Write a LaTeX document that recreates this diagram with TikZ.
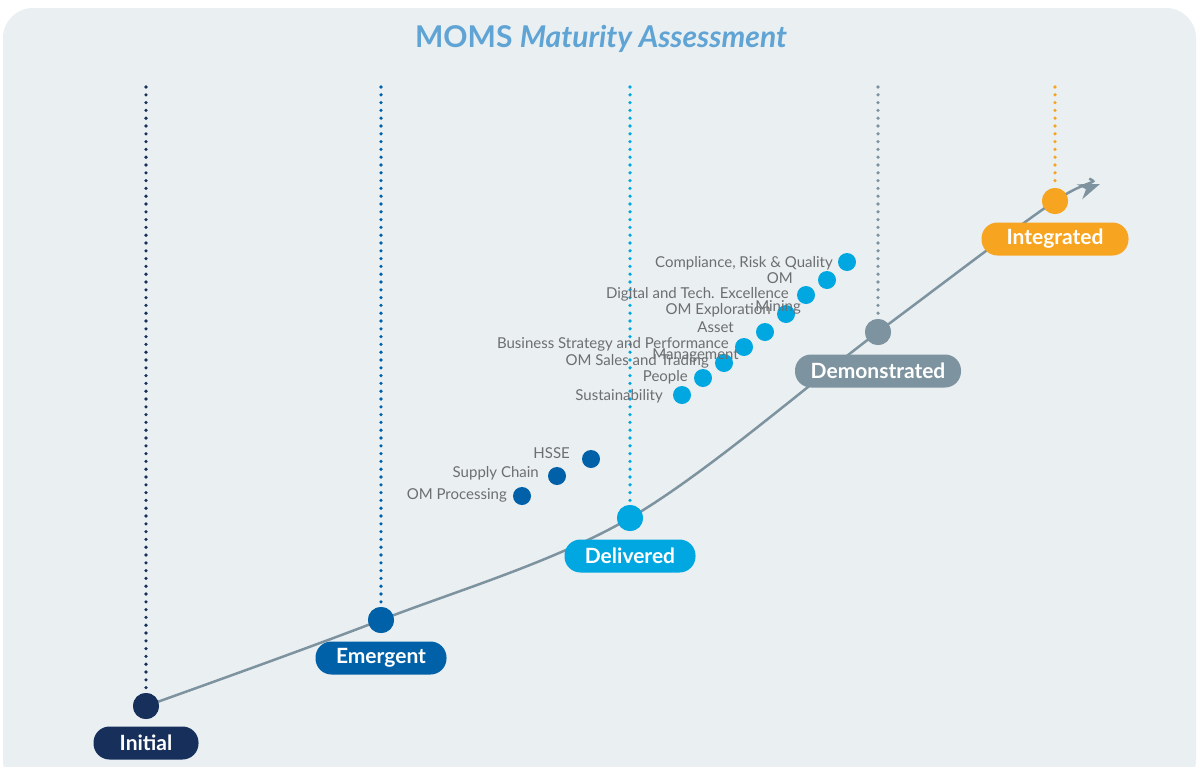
\documentclass[tikz,border=0pt]{standalone}
\usepackage{fontspec}
\setmainfont{Lato}
\usetikzlibrary{arrows.meta}
\definecolor{bgc}{HTML}{EAEFF2}
\definecolor{navy}{HTML}{16305B}
\definecolor{emblue}{HTML}{0061A8}
\definecolor{dlblue}{HTML}{00A7E1}
\definecolor{dmgray}{HTML}{7D939F}
\definecolor{igorange}{HTML}{F7A521}
\definecolor{titleblue}{HTML}{5FA4D4}
\definecolor{txtgray}{HTML}{6D6E71}
\tikzset{
  bigdot/.style={circle,fill=#1,minimum size=26pt,inner sep=0pt},
  smalldot/.style={circle,fill=#1,minimum size=18pt,inner sep=0pt},
  pill/.style={rectangle,rounded corners=16pt,fill=#1,text=white,minimum height=33pt,inner sep=0pt,font=\fontsize{21}{24}\selectfont\bfseries},
  dotline/.style={draw=#1,line width=3.6pt,line cap=round,dash pattern=on 0pt off 7.8pt,shorten >=16pt},
  lbl/.style={anchor=east,text=txtgray,font=\fontsize{15}{17}\selectfont,inner sep=0pt}
}
\begin{document}
\begin{tikzpicture}[x=1pt,y=-1pt]
\useasboundingbox (0,0) rectangle (1197,766);
\fill[white] (0,0) rectangle (1197,766);
\fill[bgc,rounded corners=30pt] (3,8) rectangle (1196,790);
\node[text=titleblue,font=\fontsize{30}{34}\selectfont\bfseries] (title) at (601,39) {MOMS \textit{Maturity Assessment}};
% top coordinates
\coordinate (ti) at (146,87);
\coordinate (te) at (381,87);
\coordinate (td) at (630,87);
\coordinate (tdm) at (878,87);
\coordinate (tig) at (1055,87);
% big dots
\node[bigdot=navy] (i) at (146,706) {};
\node[bigdot=emblue] (e) at (381,620) {};
\node[bigdot=dlblue] (d) at (630,518) {};
\node[bigdot=dmgray] (dm) at (878,332) {};
\node[bigdot=igorange] (ig) at (1055,201) {};
\coordinate (arrowend) at (1100,184);
\coordinate (ahc1) at (1082.2,199.3);
\coordinate (ahc2) at (1076.6,184.3);
\coordinate (ahin) at (1086.0,189.3);
% dotted lines
\draw[dotline=navy] (ti) -- (i.center);
\draw[dotline=emblue] (te) -- (e.center);
\draw[dotline=dlblue] (td) -- (d.center);
\draw[dotline=dmgray] (tdm) -- (dm.center);
\draw[dotline=igorange] (tig) -- (ig.center);
% curve
\draw[dmgray,line width=2.5pt,shorten >=12pt] plot[smooth,tension=0.55] coordinates {(i.center) (e.center) (d.center) (dm.center) (ig.center) (arrowend)};
\fill[dmgray] (arrowend) -- (ahc1) -- (ahin) -- (ahc2) -- cycle;
% redraw dots on top
\node[bigdot=navy] at (i) {};
\node[bigdot=emblue] at (e) {};
\node[bigdot=dlblue] at (d) {};
\node[bigdot=dmgray] at (dm) {};
\node[bigdot=igorange] at (ig) {};
% pills
\node[pill=navy,minimum width=105pt] (pi) at (146,743) {Initial};
\node[pill=emblue,minimum width=131pt] (pe) at (381,658) {Emergent};
\node[pill=dlblue,minimum width=131pt] (pd) at (630,556) {Delivered};
\node[pill=dmgray,minimum width=166pt] (pdm) at (878,371) {Demonstrated};
\node[pill=igorange,minimum width=147pt] (pig) at (1055,239) {Integrated};
% dark blue small dots
\node[smalldot=emblue] (hsse) at (591,459) {};
\node[smalldot=emblue] (sc) at (557,476) {};
\node[smalldot=emblue] (omp) at (522,496) {};
\node[lbl] (lhsse) at (570,453) {HSSE};
\node[lbl] (lsc) at (539,473) {Supply Chain};
\node[lbl] (lomp) at (507,495) {OM Processing};
% light blue small dots
\node[smalldot=dlblue] (crq) at (847,262) {};
\node[smalldot=dlblue] (om) at (827,280) {};
\node[smalldot=dlblue] (dte) at (806,295) {};
\node[smalldot=dlblue] (ome) at (786,314) {};
\node[smalldot=dlblue] (am) at (765,332) {};
\node[smalldot=dlblue] (bsp) at (744,347) {};
\node[smalldot=dlblue] (omst) at (724,363) {};
\node[smalldot=dlblue] (ppl) at (703,378) {};
\node[smalldot=dlblue] (sus) at (682,395) {};
\node[lbl] (lcrq) at (833,263) {Compliance, Risk \& Quality};
\node[lbl] (lom) at (793,278) {OM};
\node[lbl] (lmin) at (801,307) {Mining};
\node[lbl] (ldte) at (789,294) {Digital and Tech. Excellence};
\node[lbl] (lome) at (771,310) {OM Exploration};
\node[lbl] (lam) at (734,327) {Asset};
\node[lbl] (lmgt) at (739,355) {Management};
\node[lbl] (lbsp) at (729,344) {Business Strategy and Performance};
\node[lbl] (lomst) at (709,361) {OM Sales and Trading};
\node[lbl] (lppl) at (688,377) {People};
\node[lbl] (lsus) at (663,396) {Sustainability};
\end{tikzpicture}
\end{document}
